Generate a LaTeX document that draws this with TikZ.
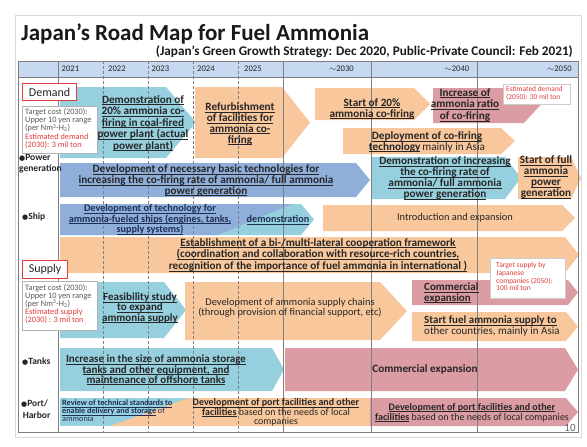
\documentclass[tikz,border=0pt]{standalone}
\usepackage{fontspec}
\setmainfont{Carlito}
\newfontfamily\dv{DejaVu Sans}
\newsavebox\ulxbox
\newcommand\ulx[1]{\sbox\ulxbox{#1}\rlap{\rule[-1.6pt]{\wd\ulxbox}{0.55pt}}\usebox\ulxbox}
\definecolor{lb}{HTML}{96D0DE}
\definecolor{bg}{HTML}{8FAEDA}
\definecolor{og}{HTML}{F9C79C}
\definecolor{pk}{HTML}{DB9CA3}
\definecolor{hd}{HTML}{C6D9F0}
\definecolor{rd}{HTML}{E23B3B}
\definecolor{tx}{HTML}{262626}
\definecolor{nv}{HTML}{1F2F55}
\definecolor{gl}{HTML}{7F7F7F}
\newcommand\chev[6]{\fill[#1] (#2,#3) -- ({#4-#6},#3) -- (#4,{(#3+#5)/2}) -- ({#4-#6},#5) -- (#2,#5) -- cycle;}
\newcommand\bul{{\dv\fontsize{7}{7}\selectfont ●}}
\tikzset{
  big/.style={font=\bfseries\fontsize{11.2}{11}\selectfont, text=tx, align=center, inner sep=0pt},
  note/.style={font=\fontsize{8.3}{8.1}\selectfont, align=left, inner sep=0pt, anchor=north west, text=black!65},
  lab/.style={font=\bfseries\fontsize{9.5}{11.5}\selectfont, align=left, inner sep=0pt, anchor=north west, text=tx},
  yr/.style={font=\fontsize{8.6}{10}\selectfont, inner sep=0pt, text=tx},
  gridline/.style={draw=gl, line width=0.6pt},
  gridd/.style={draw=gl, line width=0.6pt, dash pattern=on 3pt off 2pt},
  wbox/.style={draw=black!30, fill=white, line width=0.5pt, inner sep=0pt, anchor=north west},
  rbox/.style={draw=rd, fill=white, line width=1.2pt, inner sep=0pt, anchor=north west, font=\fontsize{12}{12}\selectfont, text=tx}
}
\begin{document}
\begin{tikzpicture}[x=1pt,y=-1pt]
\useasboundingbox (0,0) rectangle (587,447);
\fill[white] (0,0) rectangle (587,447);
\draw[black!15, line width=0.5pt] (15,15) rectangle (581,437);
% title
\node[anchor=base west, inner sep=0pt, font=\bfseries\fontsize{23}{24}\selectfont, text=black!90] (title) at (21,41) {Japan’s Road Map for Fuel Ammonia};
\node[anchor=base east, inner sep=0pt, font=\bfseries\fontsize{13.2}{14}\selectfont, text=black!90] (sub) at (573,56) {(Japan’s Green Growth Strategy: Dec 2020, Public-Private Council: Feb 2021)};
% header
\fill[hd] (18,61) rectangle (578,77);
\node[yr, anchor=west] (y21) at (61.5,69) {2021};
\node[yr, anchor=west] (y22) at (108,69) {2022};
\node[yr, anchor=west] (y23) at (151.5,69) {2023};
\node[yr, anchor=west] (y24) at (197,69) {2024};
\node[yr, anchor=west] (y25) at (244,69) {2025};
\node[yr, anchor=east] (y30) at (354,69) {$\sim$2030};
\node[yr, anchor=east] (y40) at (469.5,69) {$\sim$2040};
\node[yr, anchor=east] (y50) at (572,69) {$\sim$2050};
% demand arrows
\chev{lb}{60}{87}{196}{158}{30}
\chev{og}{195}{87}{310}{158}{28}
\chev{og}{315}{88}{430}{120}{16}
\chev{pk}{433}{88}{540}{123}{16}
\chev{og}{343}{128}{515}{154}{14}
% power generation
\chev{bg}{60}{163}{370}{197}{14}
\chev{lb}{372}{157}{521}{199}{16}
\chev{og}{518}{157}{581}{199}{10}
% ship
\chev{lb}{60}{204}{314}{235}{13}
\fill[bg] (60,204) -- (292,204) -- (218,235) -- (60,235) -- cycle;
\chev{og}{323}{205}{575}{231}{13}
% cooperation
\chev{og}{60}{237}{579}{273}{14}
% supply
\chev{lb}{60}{282}{186}{338}{22}
\chev{og}{185}{282}{407}{340}{27}
\chev{pk}{412}{280}{578}{305}{10}
\chev{og}{412}{312}{578}{341}{12}
% tanks
\chev{lb}{60}{348}{284}{391}{12}
\chev{pk}{285}{348}{578}{391}{13}
% port
\fill[lb] (60,398) rectangle (192,426);
\fill[og] (188,398) -- (372,398) -- (372,426) -- (110,426) -- cycle;
\chev{pk}{370}{398}{578}{426}{12}
% grid
\foreach \xx in {103,148,193,238} \draw[gridd] (\xx,61) -- (\xx,432);
\foreach \xx in {58,283,371,477} \draw[gridline] (\xx,61) -- (\xx,432);
\draw[gridline] (18,77) -- (578,77);
\draw[gridline] (18,61) rectangle (578,432);
% label boxes
\node[rbox, minimum width=54pt, minimum height=17pt] (dem) at (22,83) {Demand};
\node[wbox, minimum width=75pt, minimum height=47pt] (dnote) at (22,106) {};
\node[note] (dnotet) at (25,108.5) {Target cost (2030):\\Upper 10 yen range\\(per Nm\textsuperscript{3}-H\textsubscript{2})\\\textcolor{rd}{Estimated demand}\\\textcolor{rd}{(2030): 3 mil ton}};
\node[rbox, minimum width=45pt, minimum height=18pt] (sup) at (22,260) {Supply};
\node[wbox, minimum width=75pt, minimum height=49pt] (snote) at (22,281) {};
\node[note] (snotet) at (25,284) {Target cost (2030):\\Upper 10 yen range\\(per Nm\textsuperscript{3}-H\textsubscript{2})\\\textcolor{rd}{Estimated supply}\\\textcolor{rd}{(2030) : 3 mil ton}};
\node[wbox, draw=black!20, minimum width=67pt, minimum height=20pt] (edbox) at (503,84) {};
\node[note, text=rd, font=\fontsize{7.4}{8}\selectfont] (edt) at (506,86) {Estimated demand\\(2050): 30 mil ton};
\node[wbox, draw=black!20, minimum width=75pt, minimum height=40pt] (tsbox) at (490,258) {};
\node[note, text=rd, font=\fontsize{7.5}{7.8}\selectfont] (tst) at (496,262) {Target supply by\\Japanese\\companies (2050):\\100 mil ton};
% row labels
\node[lab] (lpow) at (19,154) {\bul Power\\generation};
\node[lab] (lship) at (22,213) {\bul Ship};
\node[lab] (ltank) at (22,358) {\bul Tanks};
\node[lab] (lport) at (21,400) {\bul Port/\\\,Harbor};
% arrow texts
\node[big, font=\bfseries\fontsize{11.2}{11.5}\selectfont] (t1) at (143,123) {\ulx{Demonstration of}\\\ulx{20\% ammonia co-}\\\ulx{firing in coal-fired}\\\ulx{power plant (actual}\\\ulx{power plant)}};
\node[big, font=\bfseries\fontsize{11.2}{10.8}\selectfont] (t2) at (240,124) {\ulx{Refurbishment}\\\ulx{of facilities for}\\\ulx{ammonia co-}\\\ulx{firing}};
\node[big] (t3) at (372,109) {\ulx{Start of 20\%}\\\ulx{ammonia co-firing}};
\node[big, font=\bfseries\fontsize{11.2}{11.8}\selectfont] (t4) at (465,105) {\ulx{Increase of}\\\ulx{ammonia ratio}\\\ulx{of co-firing}};
\node[big, font=\bfseries\fontsize{11.2}{10.6}\selectfont] (t5) at (427,142) {\ulx{Deployment of co-firing}\\\ulx{technology}\,\textmd{mainly in Asia}};
\node[big, font=\bfseries\fontsize{11.2}{10.6}\selectfont] (t6) at (206,180.5) {\ulx{Development of necessary basic technologies for}\\\ulx{increasing the co-firing rate of ammonia/ full ammonia}\\\ulx{power generation}};
\node[big] (t7) at (445,178.5) {\ulx{Demonstration of increasing}\\\ulx{the co-firing rate of}\\\ulx{ammonia/ full ammonia}\\\ulx{power generation}};
\node[big, font=\bfseries\fontsize{11.2}{11}\selectfont] (t8) at (546,177) {\ulx{Start of full}\\\ulx{ammonia}\\\ulx{power}\\\ulx{generation}};
\node[big, text=nv, font=\bfseries\fontsize{10.2}{10.4}\selectfont] (t9) at (150,219.5) {\ulx{Development of technology for}\\\ulx{ammonia-fueled ships (engines, tanks,}\\\ulx{supply systems)}};
\node[big, text=nv, font=\bfseries\fontsize{10.2}{10}\selectfont] (t10) at (278,220) {\ulx{demonstration}};
\node[big, font=\fontsize{10.4}{10}\selectfont] (t11) at (455,218) {Introduction and expansion};
\node[big, font=\bfseries\fontsize{11.2}{11.8}\selectfont] (t12) at (318,255) {\ulx{Establishment of a bi-/multi-lateral cooperation framework}\\\ulx{(coordination and collaboration with resource-rich countries,}\\\ulx{recognition of the importance of fuel ammonia in international )}};
\node[big, font=\bfseries\fontsize{11}{10.2}\selectfont] (t13) at (140,308) {\ulx{Feasibility study}\\\ulx{to expand}\\\ulx{ammonia supply}};
\node[big, font=\fontsize{10.4}{10.2}\selectfont] (t14) at (290,308) {Development of ammonia supply chains\\(through provision of financial support, etc)};
\node[big, anchor=west, align=left, font=\bfseries\fontsize{11}{10.8}\selectfont] (t15) at (424,293) {\ulx{Commercial}\\\ulx{expansion}};
\node[big, anchor=west, align=left, font=\bfseries\fontsize{11}{11}\selectfont] (t16) at (424,326.5) {\ulx{Start fuel ammonia supply to}\\\textmd{other countries, mainly in Asia}};
\node[big, font=\bfseries\fontsize{11}{10.3}\selectfont] (t17) at (156,370) {\ulx{Increase in the size of ammonia storage}\\\ulx{tanks and other equipment, and}\\\ulx{maintenance of offshore tanks}};
\node[big] (t18) at (425,369) {Commercial expansion};
\node[inner sep=0pt, anchor=west, align=left, text=nv, font=\bfseries\fontsize{8.2}{8}\selectfont] (t19) at (62,411) {\ulx{Review of technical standards to}\\\ulx{enable delivery and storage} \textmd{of}\\\textmd{ammonia}};
\node[big, font=\bfseries\fontsize{10}{9.6}\selectfont] (t20) at (276,412.5) {\ulx{Development of port facilities and other}\\\ulx{facilities} \textmd{based on the needs of local}\\\textmd{companies}};
\node[big, font=\bfseries\fontsize{10}{9.6}\selectfont] (t21) at (472,412.5) {\ulx{Development of port facilities and other}\\\ulx{facilities}\textmd{ based on the needs of local companies}};
\node[inner sep=0pt, font=\fontsize{11}{11}\selectfont, text=black!60] (pg) at (570,428) {10};
\end{tikzpicture}
\end{document}
